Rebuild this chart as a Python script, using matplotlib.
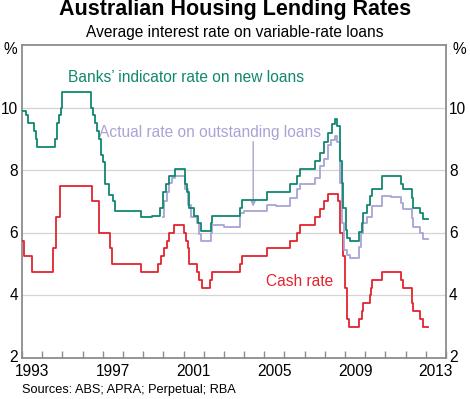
import matplotlib
matplotlib.use("Agg")
import matplotlib.pyplot as plt
from matplotlib.ticker import FixedLocator, NullFormatter

plt.rcParams['font.family'] = ['Liberation Sans', 'DejaVu Sans']

# ---- data (decimal year of change, value in %) ----
bank_t = [1993.0, 1993.2, 1993.3, 1993.6, 1993.67, 1993.75, 1994.65, 1994.75, 1994.83, 1994.92,
          1995.0, 1996.4, 1996.52, 1996.62, 1996.72, 1996.82, 1996.92, 1997.0, 1997.1, 1997.3,
          1997.52, 1997.6, 1998.9, 1999.45, 1999.83, 2000.0, 2000.12, 2000.3, 2000.58, 2001.07,
          2001.16, 2001.27, 2001.53, 2001.73, 2001.88, 2002.35, 2002.43, 2003.8, 2003.88, 2005.12,
          2006.27, 2006.6, 2006.77, 2007.51, 2007.76, 2007.97, 2008.17, 2008.34, 2008.5, 2008.62,
          2008.75, 2008.83, 2008.91, 2009.03, 2009.08, 2009.25, 2009.7, 2009.82, 2009.9, 2010.07,
          2010.24, 2010.32, 2010.82, 2011.77, 2011.89, 2012.3, 2012.38, 2012.71, 2012.88, 2013.12]
bank_v = [9.9, 9.75, 9.5, 9.25, 9.0, 8.75, 9.0, 9.5, 9.75, 10.0,
          10.5, 10.0, 9.75, 9.5, 9.25, 9.0, 8.5, 8.25, 7.55, 7.2,
          7.0, 6.7, 6.5, 6.55, 6.8, 7.3, 7.55, 7.8, 8.05, 7.55,
          7.3, 6.8, 6.55, 6.3, 6.05, 6.3, 6.55, 6.8, 7.05, 7.3,
          7.55, 7.8, 8.05, 8.3, 8.55, 8.9, 9.2, 9.48, 9.62, 9.4,
          8.3, 7.6, 6.8, 6.1, 5.83, 5.74, 6.04, 6.3, 6.63, 6.9,
          7.17, 7.39, 7.8, 7.56, 7.39, 7.1, 6.8, 6.63, 6.44, 6.44]

actual_t = [2000.0, 2000.05, 2000.17, 2000.28, 2000.45, 2000.58, 2001.07, 2001.2, 2001.35, 2001.65,
            2001.77, 2001.87, 2002.36, 2002.43, 2003.0, 2003.8, 2004.0, 2005.12, 2005.6, 2006.27,
            2006.6, 2006.77, 2007.51, 2007.76, 2007.97, 2008.14, 2008.3, 2008.5, 2008.62, 2008.75,
            2008.85, 2008.97, 2009.08, 2009.25, 2009.7, 2009.8, 2009.9, 2010.07, 2010.32, 2010.82,
            2011.3, 2011.77, 2011.89, 2012.3, 2012.38, 2012.71, 2012.88, 2013.12]
actual_v = [6.5, 7.0, 7.3, 7.6, 7.75, 7.8, 7.4, 6.9, 6.5, 6.3,
            5.95, 5.75, 6.0, 6.25, 6.2, 6.63, 6.7, 6.9, 6.85, 7.1,
            7.4, 7.55, 7.76, 8.14, 8.35, 8.8, 8.95, 9.08, 8.9, 7.6,
            6.3, 5.45, 5.3, 5.2, 5.56, 5.98, 6.31, 6.5, 6.85, 7.19,
            7.15, 6.96, 6.75, 6.47, 6.2, 6.0, 5.8, 5.8]

cash_t = [1993.0, 1993.1, 1993.5, 1994.55, 1994.67, 1994.88, 1996.45, 1996.8, 1997.37, 1997.47,
          1998.9, 1999.75, 1999.87, 2000.05, 2000.17, 2000.28, 2000.55, 2001.0, 2001.1, 2001.24,
          2001.29, 2001.65, 2001.77, 2001.9, 2002.31, 2002.43, 2003.8, 2003.9, 2005.12, 2006.27,
          2006.6, 2006.77, 2007.51, 2007.76, 2007.97, 2008.14, 2008.67, 2008.75, 2008.88, 2009.0,
          2009.08, 2009.21, 2009.7, 2009.82, 2009.9, 2010.24, 2010.28, 2010.32, 2010.82, 2011.77,
          2011.89, 2012.3, 2012.38, 2012.71, 2012.88, 2013.12]
cash_v = [5.75, 5.25, 4.75, 5.5, 6.5, 7.5, 7.0, 6.0, 5.5, 5.0,
          4.75, 5.0, 5.25, 5.5, 5.75, 6.0, 6.25, 6.0, 5.75, 5.5,
          5.0, 4.75, 4.5, 4.25, 4.5, 4.75, 5.0, 5.25, 5.5, 5.75,
          6.0, 6.25, 6.5, 6.75, 7.0, 7.25, 7.0, 6.0, 5.25, 4.25,
          3.25, 3.0, 3.25, 3.5, 3.75, 4.0, 4.25, 4.5, 4.75, 4.5,
          4.25, 3.75, 3.5, 3.25, 3.0, 3.0]

year_labels = [1993, 1997, 2001, 2005, 2009, 2013]
y_ticks = [2, 4, 6, 8, 10]

GREEN = '#11876f'
LAV = '#a8a4d6'
RED = '#e2242f'
GREY = '#8c8c8c'
FS = 11.2

fig = plt.figure(figsize=(4.70, 3.99), dpi=100)
ax = fig.add_axes([22/470, 1-358/399, (446-22)/470, (358-45)/399])

ax.step(cash_t, cash_v, where='post', color=RED, lw=1.3, zorder=3)
ax.step(actual_t, actual_v, where='post', color=LAV, lw=1.3, zorder=3)
ax.step(bank_t, bank_v, where='post', color=GREEN, lw=1.3, zorder=4)

ax.set_xlim(1993, 2014)
ax.set_ylim(2, 12)

for v in y_ticks[1:]:
    ax.axhline(v, color='#d4d4d4', lw=0.9, zorder=1)

ax.set_yticks(y_ticks)
ax.tick_params(axis='y', which='both', length=0, left=False, right=False,
               labelleft=False, labelright=False)
for v in y_ticks:
    fig.text(18/470, 1-(357-(v-2)*31)/399, str(v), ha='right', va='center', fontsize=FS)
    fig.text(449/470, 1-(357-(v-2)*31)/399, str(v), ha='left', va='center', fontsize=FS)
fig.text(10/470, 1-50/399, '%', ha='center', va='center', fontsize=FS)
fig.text(459/470, 1-50/399, '%', ha='center', va='center', fontsize=FS)

ax.xaxis.set_minor_locator(FixedLocator(list(range(1993, 2015))))
ax.xaxis.set_minor_formatter(NullFormatter())
ax.set_xticks([y + 0.5 for y in year_labels])
ax.set_xticklabels([str(y) for y in year_labels])
ax.tick_params(axis='x', which='major', length=0, labelsize=FS, pad=4)
ax.tick_params(axis='x', which='minor', direction='in', length=5, width=1, color=GREY)

for s in ax.spines.values():
    s.set_color(GREY)
    s.set_linewidth(1.3)

ax.text(1995.3, 10.95, "Banks\u2019 indicator rate on new loans", color=GREEN, fontsize=FS,
        ha='left', va='center')
ax.text(1996.8, 9.2, "Actual rate on outstanding loans", color=LAV, fontsize=FS,
        ha='left', va='center')
ax.annotate('', xy=(2004.45, 6.75), xytext=(2004.45, 9.0),
            arrowprops=dict(arrowstyle='-|>', color=LAV, lw=1, mutation_scale=7))
ax.text(2005.1, 4.45, "Cash rate", color=RED, fontsize=FS, ha='left', va='center')

fig.text(0.5, 1-10/399, 'Australian Housing Lending Rates', ha='center', va='center',
         fontsize=15.5, fontweight='bold')
fig.text(0.5, 1-32/399, 'Average interest rate on variable-rate loans', ha='center', va='center',
         fontsize=FS)
fig.text(22/470, 1-390/399, 'Sources: ABS; APRA; Perpetual; RBA', ha='left', va='center',
         fontsize=9.2)

fig.savefig('out.png', dpi=100)
